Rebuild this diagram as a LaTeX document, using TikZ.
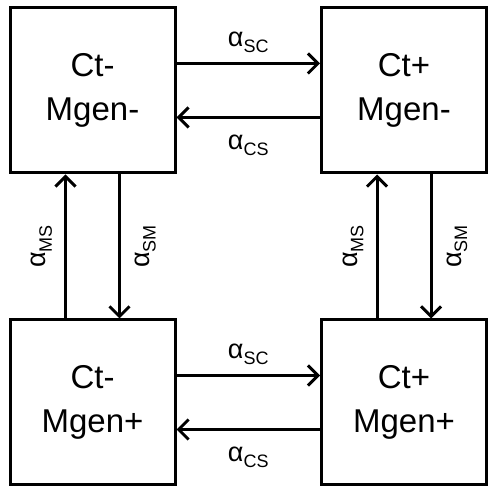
\documentclass[tikz,border=0pt]{standalone}
\usepackage{fontspec}
\setmainfont{Liberation Sans}
\usetikzlibrary{arrows.meta,positioning}
\newcommand{\rate}[1]{α\raisebox{-6pt}{\fontsize{18}{18}\selectfont #1}}
\tikzset{
  statebox/.style = {draw, line width=3pt, minimum width=165pt, minimum height=165pt,
                     inner sep=0pt, align=center, font=\fontsize{33}{44}\selectfont},
  ar/.style       = {-{Straight Barb[length=10pt,width=20pt]}, line width=3pt},
  lbl/.style      = {font=\fontsize{27}{27}\selectfont, inner sep=0pt},
}
\begin{document}
\begin{tikzpicture}[x=1pt,y=1pt]
\useasboundingbox (0,0) rectangle (487,489);
\def\off{27}

% -- the four states ---------------------------------------------------------
\node[statebox] (cmm) at (92.5,398.5) {Ct-\\Mgen-};
\node[statebox] (cpm) at (404,398.5)  {Ct+\\Mgen-};
\node[statebox] (cmp) at (92.5,86.5)  {Ct-\\Mgen+};
\node[statebox] (cpp) at (404,86.5)   {Ct+\\Mgen+};

% -- horizontal rates --------------------------------------------------------
\draw[ar] ([yshift=\off]cmm.east) -- ([yshift=\off]cpm.west)
  node[lbl, midway, above=9pt] {\rate{SC}};
\draw[ar] ([yshift=-\off]cpm.west) -- ([yshift=-\off]cmm.east)
  node[lbl, midway, below=16pt] {\rate{CS}};
\draw[ar] ([yshift=\off]cmp.east) -- ([yshift=\off]cpp.west)
  node[lbl, midway, above=9pt] {\rate{SC}};
\draw[ar] ([yshift=-\off]cpp.west) -- ([yshift=-\off]cmp.east)
  node[lbl, midway, below=16pt] {\rate{CS}};

% -- vertical rates ----------------------------------------------------------
\draw[ar] ([xshift=-\off]cmp.north) -- ([xshift=-\off]cmm.south)
  node[lbl, midway, xshift=-12pt, rotate=90, anchor=south] {\rate{MS}};
\draw[ar] ([xshift=\off]cmm.south) -- ([xshift=\off]cmp.north)
  node[lbl, midway, xshift=14pt, rotate=90, anchor=north] {\rate{SM}};
\draw[ar] ([xshift=-\off]cpp.north) -- ([xshift=-\off]cpm.south)
  node[lbl, midway, xshift=-12pt, rotate=90, anchor=south] {\rate{MS}};
\draw[ar] ([xshift=\off]cpm.south) -- ([xshift=\off]cpp.north)
  node[lbl, midway, xshift=14pt, rotate=90, anchor=north] {\rate{SM}};

\end{tikzpicture}
\end{document}
